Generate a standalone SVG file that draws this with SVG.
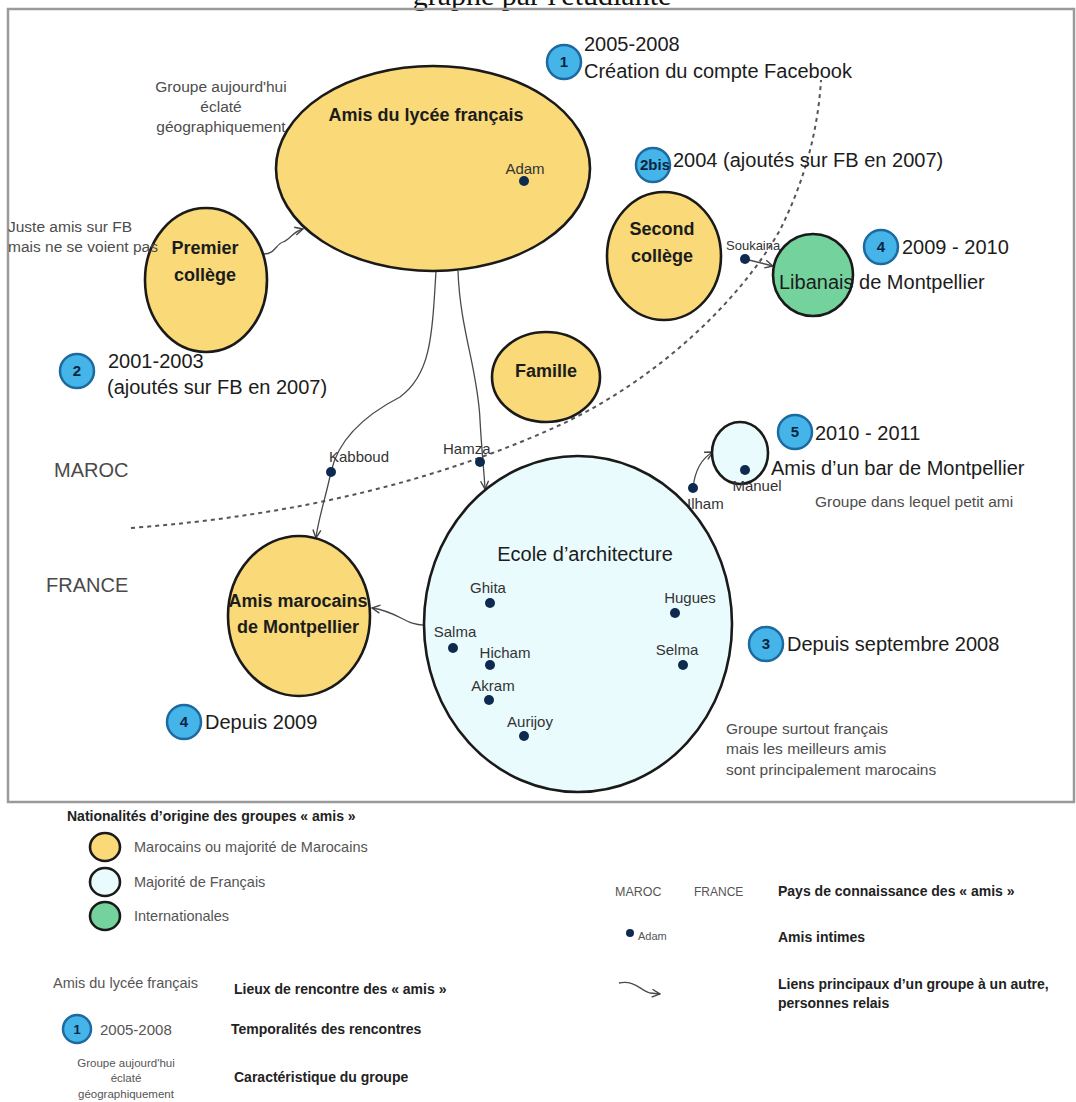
<svg xmlns="http://www.w3.org/2000/svg" width="1076" height="1102" viewBox="0 0 1076 1102">
<defs>
<style>
text{font-family:"Liberation Sans",Arial,sans-serif}
.ny{fill:#f9d978;stroke:#1a1a1a;stroke-width:2.6}
.nf{fill:#e9fbfd;stroke:#1a1a1a;stroke-width:2.6}
.ng{fill:#74d39c;stroke:#1a1a1a;stroke-width:2.6}
.badge{fill:#45b4e8;stroke:#1d6aa0;stroke-width:2.5}
.bnum{font-weight:bold;font-size:15px;fill:#0b2540;text-anchor:middle}
.gl{font-weight:bold;font-size:18px;fill:#1c1c1c;text-anchor:middle}
.big{font-size:20px;fill:#1c1c1c}
.ann{font-size:15.5px;fill:#4d4d4d}
.name{font-size:15px;fill:#333}
.dot{fill:#0e2a4f}
.conn{fill:none;stroke:#4a4a4a;stroke-width:1.3}
.dash{fill:none;stroke:#555;stroke-width:2;stroke-dasharray:4 4}
.country{font-size:20px;fill:#4a4a4a}
.legb{font-weight:bold;font-size:14px;fill:#222}
.leg{font-size:14.5px;fill:#555}
</style>
<marker id="arr" viewBox="0 0 10 10" refX="9" refY="5" markerWidth="10" markerHeight="10" markerUnits="userSpaceOnUse" orient="auto">
<path d="M1,1 L9,5 L1,9" fill="none" stroke="#444" stroke-width="1.4"/>
</marker>
</defs>
<rect width="1076" height="1102" fill="#ffffff"/>
<text x="542" y="5" font-size="30" text-anchor="middle" style="font-family:'Liberation Serif','Times New Roman',serif" fill="#111">graphe par l'étudiante</text>
<rect id="frame" x="8" y="9" width="1066" height="793" fill="none" stroke="#9a9a9a" stroke-width="2.5"/>

<g id="boundary">
<path class="dash" d="M131,528 C300,515 440,480 560,425 C660,378 740,300 780,230 C805,180 818,130 821,80"/>
<text class="country" x="54" y="477">MAROC</text>
<text class="country" x="46" y="592">FRANCE</text>
</g>

<g id="connectors">
<path class="conn" d="M264,254 C275,254 276,244 283,242 C290,240 292,232 303,229" marker-end="url(#arr)"/>
<path class="conn" d="M436,271 C432,340 430,375 400,397 C365,415 338,440 331,472 C325,500 318,520 316,538" marker-end="url(#arr)"/>
<path class="conn" d="M458,271 C460,330 478,370 480,420 C482,455 484,470 485,489" marker-end="url(#arr)"/>
<path class="conn" d="M426,625 C405,626 400,612 372,608" marker-end="url(#arr)"/>
<path class="conn" d="M745,259 L773,266" marker-end="url(#arr)"/>
<path class="conn" d="M693,488 C695,470 702,458 713,452" marker-end="url(#arr)"/>
</g>

<g id="node-lycee">
<ellipse class="ny" cx="433" cy="168.5" rx="157" ry="102.5"/>
<text class="gl" x="426" y="121" style="font-weight:bold">Amis du lycée français</text>
<text class="name" x="525" y="174" text-anchor="middle">Adam</text>
<circle class="dot" cx="524" cy="181" r="5"/>
</g>
<text class="ann" x="221" y="92" text-anchor="middle">Groupe aujourd'hui</text>
<text class="ann" x="221" y="112" text-anchor="middle">éclaté</text>
<text class="ann" x="221" y="132" text-anchor="middle">géographiquement</text>

<g id="node-premier">
<ellipse class="ny" cx="206" cy="280" rx="61" ry="72"/>
<text class="gl" x="205" y="254">Premier</text>
<text class="gl" x="205" y="281">collège</text>
</g>
<text class="ann" x="8" y="232">Juste amis sur FB</text>
<text class="ann" x="8" y="252">mais ne se voient pas</text>

<g id="t1">
<circle class="badge" cx="564" cy="62" r="17"/>
<text class="bnum" x="564" y="67">1</text>
<text class="big" x="584" y="51">2005-2008</text>
<text class="big" x="584" y="78">Création du compte Facebook</text>
</g>

<g id="t2bis">
<circle class="badge" cx="653" cy="165" r="17"/>
<text class="bnum" x="655" y="170">2bis</text>
<text class="big" x="673" y="167">2004 (ajoutés sur FB en 2007)</text>
</g>

<g id="node-second">
<ellipse class="ny" cx="664" cy="256" rx="57" ry="64"/>
<text class="gl" x="662" y="235">Second</text>
<text class="gl" x="662" y="262">collège</text>
<text class="name" x="726" y="250" style="font-size:13px">Soukaina</text>
<circle class="dot" cx="745" cy="259" r="5"/>
</g>

<g id="node-libanais">
<ellipse class="ng" cx="813" cy="275" rx="40" ry="41"/>
<text class="big" x="779" y="289">Libanais de Montpellier</text>
</g>
<g id="t4a">
<circle class="badge" cx="881" cy="247" r="17"/>
<text class="bnum" x="881" y="252">4</text>
<text class="big" x="902" y="254">2009 - 2010</text>
</g>

<g id="t2">
<circle class="badge" cx="77" cy="371" r="17"/>
<text class="bnum" x="77" y="376">2</text>
<text class="big" x="108" y="368">2001-2003</text>
<text class="big" x="107" y="394">(ajoutés sur FB en 2007)</text>
</g>

<g id="node-famille">
<ellipse class="ny" cx="546" cy="377" rx="54" ry="45"/>
<text class="gl" x="546" y="377">Famille</text>
</g>

<g id="relays">
<text class="name" x="329" y="462">Kabboud</text>
<circle class="dot" cx="331" cy="472" r="5"/>
<text class="name" x="443" y="454">Hamza</text>
<circle class="dot" cx="480" cy="462" r="5"/>
</g>

<g id="node-bar">
<ellipse class="nf" cx="740" cy="453" rx="28" ry="31"/>
<circle class="dot" cx="745" cy="470" r="5"/>
<text class="name" x="757" y="491" text-anchor="middle">Manuel</text>
<circle class="dot" cx="693" cy="488" r="5"/>
<text class="name" x="687" y="509">Ilham</text>
</g>
<g id="t5">
<circle class="badge" cx="795" cy="432" r="17"/>
<text class="bnum" x="795" y="437">5</text>
<text class="big" x="815" y="440">2010 - 2011</text>
<text class="big" x="771" y="475">Amis d’un bar de Montpellier</text>
</g>
<text class="ann" x="815" y="507">Groupe dans lequel petit ami</text>

<g id="node-ecole">
<ellipse class="nf" cx="578" cy="624" rx="154" ry="168"/>
<text class="big" x="585" y="561" text-anchor="middle">Ecole d’architecture</text>
<text class="name" x="488" y="593" text-anchor="middle">Ghita</text>
<circle class="dot" cx="490" cy="603" r="5"/>
<text class="name" x="690" y="603" text-anchor="middle">Hugues</text>
<circle class="dot" cx="675" cy="613" r="5"/>
<text class="name" x="455" y="637" text-anchor="middle">Salma</text>
<circle class="dot" cx="453" cy="648" r="5"/>
<text class="name" x="505" y="658" text-anchor="middle">Hicham</text>
<circle class="dot" cx="490" cy="665" r="5"/>
<text class="name" x="677" y="655" text-anchor="middle">Selma</text>
<circle class="dot" cx="683" cy="665" r="5"/>
<text class="name" x="493" y="691" text-anchor="middle">Akram</text>
<circle class="dot" cx="489" cy="700" r="5"/>
<text class="name" x="530" y="727" text-anchor="middle">Aurijoy</text>
<circle class="dot" cx="524" cy="736" r="5"/>
</g>
<g id="t3">
<circle class="badge" cx="766" cy="644" r="17"/>
<text class="bnum" x="766" y="649">3</text>
<text class="big" x="787" y="651">Depuis septembre 2008</text>
</g>
<text class="ann" x="726" y="734">Groupe surtout français</text>
<text class="ann" x="726" y="754">mais les meilleurs amis</text>
<text class="ann" x="726" y="775">sont principalement marocains</text>

<g id="node-marocains">
<ellipse class="ny" cx="299" cy="616" rx="71" ry="80"/>
<text class="gl" x="298" y="607">Amis marocains</text>
<text class="gl" x="298" y="633">de Montpellier</text>
</g>
<g id="t4b">
<circle class="badge" cx="184" cy="722" r="17"/>
<text class="bnum" x="184" y="727">4</text>
<text class="big" x="205" y="729">Depuis 2009</text>
</g>

<g id="legend">
<text class="legb" x="67" y="821">Nationalités d’origine des groupes « amis »</text>
<ellipse class="ny" cx="105" cy="847" rx="15" ry="14"/>
<text class="leg" x="134" y="852">Marocains ou majorité de Marocains</text>
<ellipse class="nf" cx="105" cy="882" rx="15" ry="14"/>
<text class="leg" x="134" y="887">Majorité de Français</text>
<ellipse class="ng" cx="105" cy="916" rx="15" ry="14"/>
<text class="leg" x="134" y="921">Internationales</text>

<text class="leg" x="53" y="988">Amis du lycée français</text>
<text class="legb" x="234" y="994">Lieux de rencontre des « amis »</text>
<circle class="badge" cx="77" cy="1029" r="14"/>
<text class="bnum" x="77" y="1034" style="font-size:13px">1</text>
<text class="leg" x="100" y="1035" style="font-size:15px">2005-2008</text>
<text class="legb" x="231" y="1034">Temporalités des rencontres</text>
<text class="leg" x="126" y="1067" text-anchor="middle" style="font-size:11.5px">Groupe aujourd'hui</text>
<text class="leg" x="126" y="1082" text-anchor="middle" style="font-size:11.5px">éclaté</text>
<text class="leg" x="126" y="1098" text-anchor="middle" style="font-size:11.5px">géographiquement</text>
<text class="legb" x="234" y="1082">Caractéristique du groupe</text>

<text class="leg" x="615" y="896" style="font-size:12.5px">MAROC</text>
<text class="leg" x="694" y="896" style="font-size:12px">FRANCE</text>
<text class="legb" x="778" y="896">Pays de connaissance des « amis »</text>
<circle class="dot" cx="630" cy="933" r="4"/>
<text class="leg" x="638" y="940" style="font-size:11px">Adam</text>
<text class="legb" x="778" y="942">Amis intimes</text>
<path class="conn" d="M619,983 C635,980 640,990 650,993 L660,994" marker-end="url(#arr)"/>
<text class="legb" x="778" y="989">Liens principaux d’un groupe à un autre,</text>
<text class="legb" x="778" y="1008">personnes relais</text>
</g>
</svg>
